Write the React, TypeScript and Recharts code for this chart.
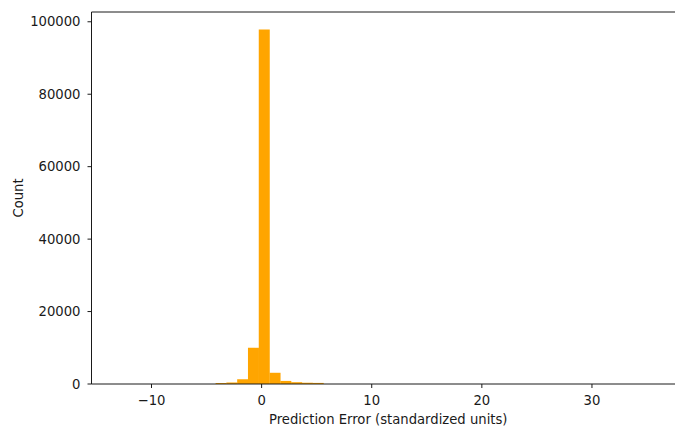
import React from 'react';
import { BarChart, Bar, XAxis, YAxis, ReferenceLine, Label } from 'recharts';

// histogram: 50 equal bins starting at BIN_START
const BIN_START = -13.0;
const BIN_WIDTH = 0.98;
const COUNTS = [
  1, 0, 0, 0, 0, 0, 0, 0, 0, 300,
  400, 1300, 10000, 97900, 3100, 850, 500, 350, 300, 0,
  0, 0, 0, 0, 0, 0, 0, 0, 0, 0,
  0, 0, 0, 0, 0, 0, 0, 0, 0, 0,
  0, 0, 0, 0, 0, 0, 0, 0, 0, 1,
];
const X_TICKS = [-10, 0, 10, 20, 30];
const Y_TICKS = [0, 20000, 40000, 60000, 80000, 100000];
const X_DOMAIN: [number, number] = [-15.45, 38.45];
const Y_MAX = 102700;

const data = COUNTS.map((count, i) => ({
  center: BIN_START + BIN_WIDTH * (i + 0.5),
  count,
}));

const FONT = '"DejaVu Sans", sans-serif';
const FONT_SIZE = 13.2;
const INK = '#1a1a1a';
const tickStyle = { fill: INK, fontSize: FONT_SIZE, fontFamily: FONT };

const fmt = (v: number) => (v < 0 ? `\u2212${Math.abs(v)}` : `${v}`);

export default function App() {
  return (
    <div style={{ position: 'absolute', left: 0, top: 0, width: 675, height: 426, overflow: 'hidden', background: '#fff' }}>
      <BarChart
        width={690}
        height={426}
        data={data}
        margin={{ top: 12, right: 5, left: 0, bottom: 0 }}
        barCategoryGap={0}
        barGap={0}
      >
        <XAxis
          dataKey="center"
          type="number"
          domain={X_DOMAIN}
          ticks={X_TICKS}
          tickFormatter={fmt}
          allowDataOverflow
          height={42}
          tick={tickStyle}
          tickSize={4}
          tickMargin={8}
          stroke={INK}
          tickLine={{ stroke: INK }}
          axisLine={{ stroke: INK }}
        >
          <Label
            content={({ viewBox }: any) => (
              <text
                x={viewBox.x + viewBox.width / 2}
                y={viewBox.y + 35}
                textAnchor="middle"
                dominantBaseline="central"
                fill={INK}
                fontSize={FONT_SIZE}
                fontFamily={FONT}
              >
                Prediction Error (standardized units)
              </text>
            )}
          />
        </XAxis>
        <YAxis
          type="number"
          domain={[0, Y_MAX]}
          ticks={Y_TICKS}
          width={91.5}
          tick={tickStyle}
          tickSize={4}
          tickMargin={7}
          stroke={INK}
          tickLine={{ stroke: INK }}
          axisLine={{ stroke: INK }}
        >
          <Label
            content={({ viewBox }: any) => {
              const cx = 18.5;
              const cy = viewBox.y + viewBox.height / 2;
              return (
                <text
                  x={cx}
                  y={cy}
                  transform={`rotate(-90 ${cx} ${cy})`}
                  textAnchor="middle"
                  dominantBaseline="central"
                  fill={INK}
                  fontSize={FONT_SIZE}
                  fontFamily={FONT}
                >
                  Count
                </text>
              );
            }}
          />
        </YAxis>
        <ReferenceLine y={Y_MAX} stroke={INK} />
        <Bar dataKey="count" fill="#FFA500" isAnimationActive={false} />
      </BarChart>
    </div>
  );
}
